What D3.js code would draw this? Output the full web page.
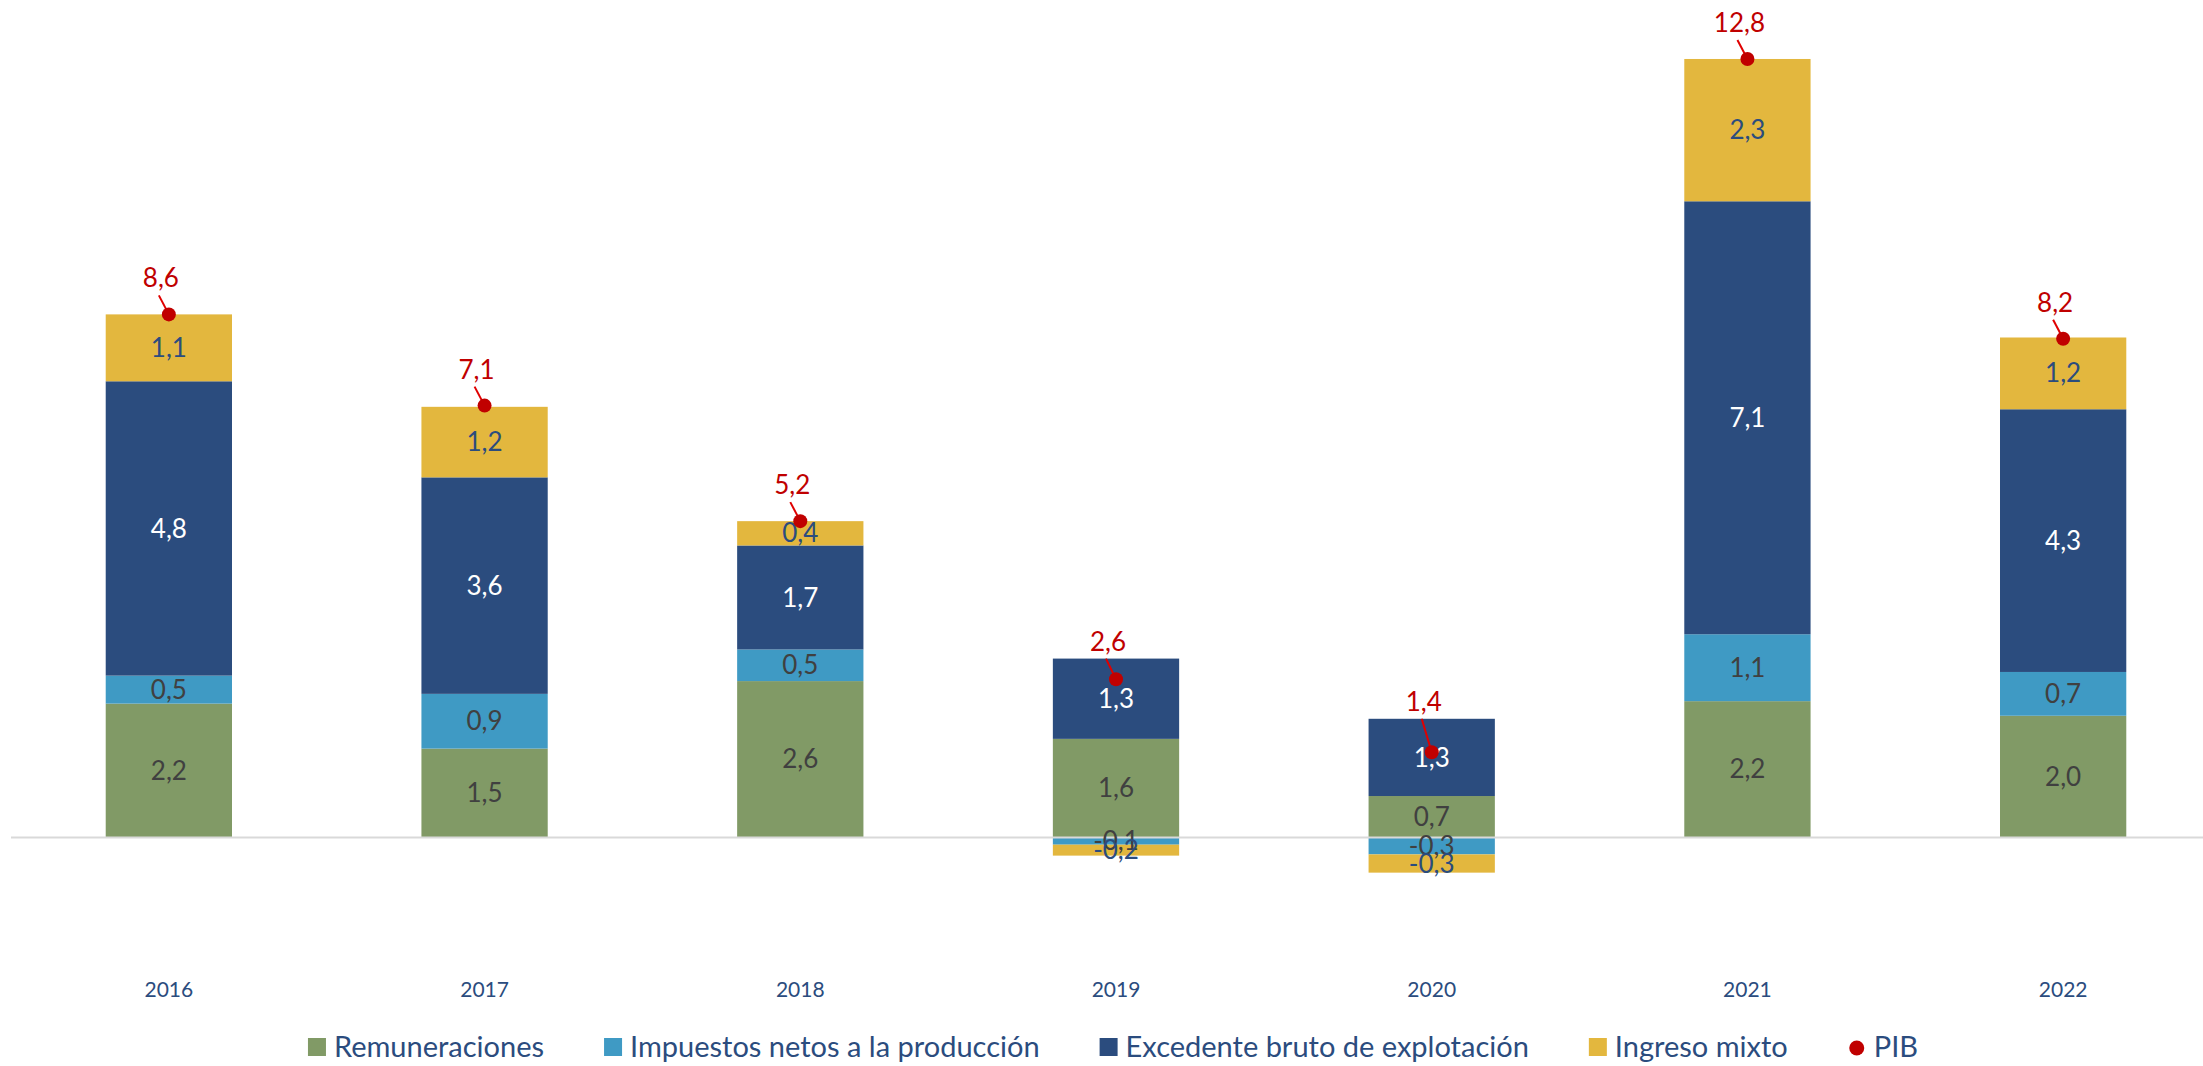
<!DOCTYPE html>
<html>
<head>
<meta charset="utf-8">
<script src="https://cdn.jsdelivr.net/npm/d3@7"></script>
<style>
  body { margin: 0; background: #fff; }
  svg text { font-family: "Gill Sans", Lato, "Open Sans", sans-serif; }
</style>
</head>
<body>
<div class="chart"></div>
<script>
// values (contributions to growth, p.p.)
var years = ["2016", "2017", "2018", "2019", "2020", "2021", "2022"];
var remuneraciones = [2.2, 1.46, 2.57, 1.62, 0.68, 2.24, 2.0];
var impuestos = [0.46, 0.9, 0.52, -0.12, -0.28, 1.1, 0.72];
var excedente = [4.84, 3.56, 1.71, 1.32, 1.27, 7.12, 4.32];
var ingresoMixto = [1.1, 1.16, 0.4, -0.18, -0.3, 2.34, 1.18];
var pib = [8.6, 7.1, 5.2, 2.6, 1.4, 12.8, 8.2];

var seriesNames = ["Remuneraciones", "Impuestos netos a la producción", "Excedente bruto de explotación", "Ingreso mixto"];
var keys = ["rem", "imp", "exc", "ing"];
var colors = { rem: "#819a66", imp: "#3f9ac4", exc: "#2b4c7e", ing: "#e3b73e" };
var labelColors = { rem: "#404040", imp: "#404040", exc: "#ffffff", ing: "#2b4c7e" };
var red = "#c00000";

var svgWidth = 2203;
var svgHeight = 1066;

var svg = d3.select(".chart")
  .append("svg")
  .attr("width", svgWidth)
  .attr("height", svgHeight);

var data = years.map(function(y, i) {
  return { year: y, rem: remuneraciones[i], imp: impuestos[i], exc: excedente[i], ing: ingresoMixto[i], pib: pib[i] };
});

var xScale = d3.scaleBand()
  .domain(years)
  .range([11, 2221])
  .paddingInner(0.6)
  .paddingOuter(0.3);

var yScale = d3.scaleLinear()
  .domain([-2, 14])
  .range([959, -14]);

var stack = d3.stack()
  .keys(keys)
  .offset(d3.stackOffsetDiverging);
var stacked = stack(data);

var fmt = function(v) { return d3.format(".1f")(v).replace(".", ",").replace("−", "-"); };

// bars
var layers = svg.append("g").selectAll("g")
  .data(stacked)
  .enter()
  .append("g")
  .attr("fill", d => colors[d.key]);

layers.selectAll("rect")
  .data(d => d)
  .enter()
  .append("rect")
  .attr("x", d => xScale(d.data.year))
  .attr("width", xScale.bandwidth())
  .attr("y", d => yScale(Math.max(d[0], d[1])))
  .attr("height", d => Math.abs(yScale(d[0]) - yScale(d[1])));

// zero line
svg.append("line")
  .attr("x1", 11)
  .attr("x2", svgWidth)
  .attr("y1", yScale(0))
  .attr("y2", yScale(0))
  .attr("stroke", "#d9d9d9")
  .attr("stroke-width", 2);

// segment labels
stacked.forEach(function(layer) {
  svg.append("g").selectAll("text")
    .data(layer)
    .enter()
    .append("text")
    .attr("x", d => xScale(d.data.year) + xScale.bandwidth() / 2)
    .attr("y", d => (yScale(d[0]) + yScale(d[1])) / 2)
    .attr("dy", "0.35em")
    .attr("text-anchor", "middle")
    .attr("font-size", "26px")
    .attr("fill", labelColors[layer.key])
    .text(d => fmt(d.data[layer.key]));
});

// PIB points with labels and leader lines
var pibGroup = svg.append("g");
data.forEach(function(d) {
  var cx = xScale(d.year) + xScale.bandwidth() / 2;
  var cy = yScale(d.pib);
  var top = yScale(Math.max(0, d.rem) + Math.max(0, d.imp) + Math.max(0, d.exc) + Math.max(0, d.ing));
  var ly = Math.min(cy - 27, top - 8);
  var lx = cx - 8;
  pibGroup.append("line")
    .attr("x1", lx - 2)
    .attr("y1", ly + 8)
    .attr("x2", cx)
    .attr("y2", cy)
    .attr("stroke", "#e00000")
    .attr("stroke-width", 2);
  pibGroup.append("circle")
    .attr("cx", cx)
    .attr("cy", cy)
    .attr("r", 7)
    .attr("fill", red);
  pibGroup.append("text")
    .attr("x", lx)
    .attr("y", ly)
    .attr("text-anchor", "middle")
    .attr("font-size", "26px")
    .attr("fill", red)
    .text(fmt(d.pib));
});

// year labels
svg.append("g").selectAll("text")
  .data(years)
  .enter()
  .append("text")
  .attr("x", d => xScale(d) + xScale.bandwidth() / 2)
  .attr("y", 997)
  .attr("text-anchor", "middle")
  .attr("font-size", "21px")
  .attr("fill", "#2b4c7e")
  .text(d => d);

// legend
var legend = svg.append("g");
var lx = 0;
var items = keys.map((k, i) => ({ key: k, name: seriesNames[i] })).concat([{ key: "pib", name: "PIB" }]);
items.forEach(function(it) {
  var g = legend.append("g").attr("transform", `translate(${lx},0)`);
  if (it.key === "pib") {
    g.append("circle").attr("cx", 9).attr("cy", -9).attr("r", 7.5).attr("fill", red);
  } else {
    g.append("rect").attr("x", 0).attr("y", -19).attr("width", 18).attr("height", 18).attr("fill", colors[it.key]);
  }
  var t = g.append("text")
    .attr("x", 26)
    .attr("y", 0)
    .attr("font-size", "29px")
    .attr("fill", "#2b4c7e")
    .text(it.name);
  lx += 26 + t.node().getComputedTextLength() + 60;
});
var legendWidth = lx - 60;
legend.attr("transform", `translate(${1113 - legendWidth / 2},1057)`);
</script>
</body>
</html>
